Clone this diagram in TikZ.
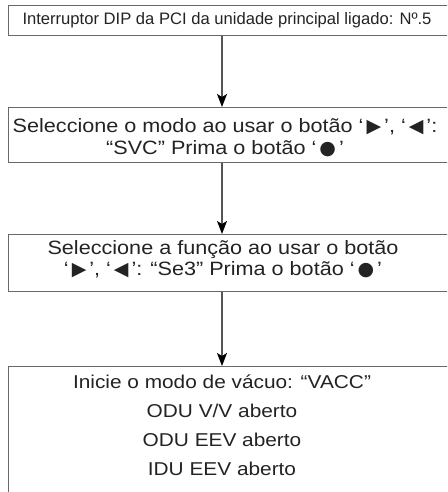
\documentclass[tikz,border=0pt]{standalone}
\usepackage{fontspec}
\setmainfont{Liberation Sans}
\newfontfamily\widefont[FakeStretch=1.12]{Liberation Sans}
\newfontfamily\symfont{DejaVu Sans}
\usetikzlibrary{positioning,arrows.meta}
\definecolor{framegrey}{RGB}{105,105,105}
\definecolor{linegrey}{RGB}{85,85,85}
\definecolor{textgrey}{RGB}{35,35,35}
\newcommand{\btn}[1]{‘\hspace{3pt}{\symfont\fontsize{19pt}{19pt}\selectfont #1}\hspace{3pt}’}
\tikzset{
  boxframe/.style={draw=framegrey, line width=1.4pt, minimum width=470pt,
                   anchor=north west, inner sep=0pt},
  smalltxt/.style={font=\fontsize{16.6pt}{21pt}\selectfont, text=textgrey, inner sep=0pt},
  widetxt/.style ={font=\widefont\fontsize{19.3pt}{21.5pt}\selectfont, text=textgrey,
                   align=center, inner sep=0pt},
  listtxt/.style ={font=\widefont\fontsize{18.6pt}{29pt}\selectfont, text=textgrey,
                   align=center, inner sep=0pt},
  arr/.style     ={draw=linegrey, line width=1.3pt,
                   -{Stealth[length=13pt,width=10pt,inset=3pt,black]}},
}
\begin{document}
\begin{tikzpicture}[x=1pt,y=1pt]
\useasboundingbox (0,0) rectangle (447,492);
\clip (0,0) rectangle (447,492);
% frames, open to the right and below
\node[boxframe, minimum height=30pt]  (b1) at (8,487) {};
\node[boxframe, minimum height=55pt]  (b2) at (8,385) {};
\node[boxframe, minimum height=57pt]  (b3) at (8,258) {};
\node[boxframe, minimum height=160pt] (b4) at (8,126) {};
% texts
\node[smalltxt] (t1) at (227,472) {Interruptor DIP da PCI da unidade principal ligado: Nº.5};
\node[widetxt]  (t2) at (225,354.5) {Seleccione o modo ao usar o botão \btn{▶}, \btn{◀}:\\
  “SVC” Prima o botão \btn{●}};
\node[widetxt]  (t3) at (223,233) {Seleccione a função ao usar o botão\\
  \btn{▶}, \btn{◀}: “Se3” Prima o botão \btn{●}};
\node[listtxt]  (t4) at (222,66.5) {Inicie o modo de vácuo: “VACC”\\ ODU V/V aberto\\
  ODU EEV aberto\\ IDU EEV aberto};
% arrows
\coordinate (ax) at (222,0);
\draw[arr] (b1.south -| ax) -- (b2.north -| ax);
\draw[arr] (b2.south -| ax) -- (b3.north -| ax);
\draw[arr] (b3.south -| ax) -- (b4.north -| ax);
\end{tikzpicture}
\end{document}
